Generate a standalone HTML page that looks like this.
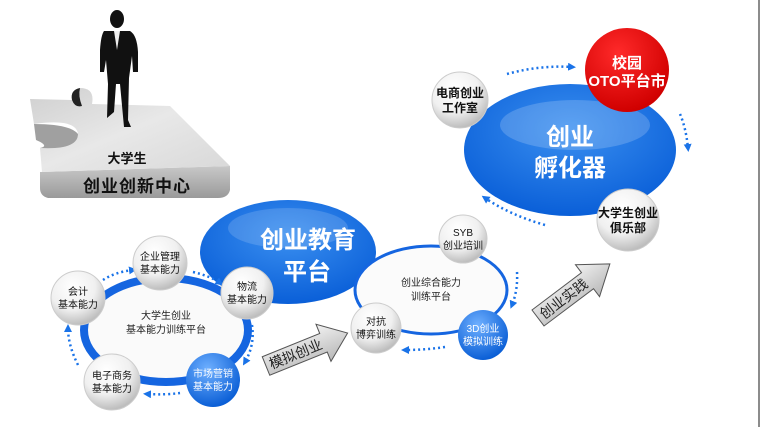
<!DOCTYPE html>
<html><head><meta charset="utf-8"><style>
html,body{margin:0;padding:0;background:#fff;}
svg{display:block;font-family:"Liberation Sans","Noto Sans CJK SC",sans-serif;}
</style></head><body>
<svg width="760" height="427" viewBox="0 0 760 427" xmlns="http://www.w3.org/2000/svg">
<defs>
<radialGradient id="gb" cx="50%" cy="35%" r="65%"><stop offset="0" stop-color="#3a8ff0"/><stop offset="1" stop-color="#0a5fd8"/></radialGradient>
<radialGradient id="gw" cx="40%" cy="30%" r="70%"><stop offset="0" stop-color="#fff"/><stop offset="0.6" stop-color="#f0f0f0"/><stop offset="1" stop-color="#bdbdbd"/></radialGradient>
<radialGradient id="gbc" cx="40%" cy="30%" r="70%"><stop offset="0" stop-color="#6fb0ff"/><stop offset="1" stop-color="#0b5fd6"/></radialGradient>
<radialGradient id="gr" cx="40%" cy="30%" r="70%"><stop offset="0" stop-color="#ff2a2a"/><stop offset="1" stop-color="#d00000"/></radialGradient>
<linearGradient id="pz" x1="0" y1="0" x2="1" y2="1"><stop offset="0" stop-color="#cfcfcf"/><stop offset="0.5" stop-color="#e8e8e8"/><stop offset="1" stop-color="#d8d8d8"/></linearGradient>
<linearGradient id="pzs" x1="0" y1="0" x2="0" y2="1"><stop offset="0" stop-color="#c8c8c8"/><stop offset="1" stop-color="#9a9a9a"/></linearGradient>
<linearGradient id="ar" x1="0" y1="0" x2="0" y2="1"><stop offset="0" stop-color="#f2f2f2"/><stop offset="1" stop-color="#b8b8b8"/></linearGradient>
<marker id="mh" markerUnits="userSpaceOnUse" markerWidth="8" markerHeight="8" refX="4" refY="4" orient="auto"><path d="M0,0 L8,4 L0,8 Z" fill="#1a73e8"/></marker>
</defs>
<line x1="759" y1="0" x2="759" y2="427" stroke="#666" stroke-width="1.5"/>

<!-- puzzle -->
<path d="M40,172 L230,166 L230,190 Q228,198 218,198 L48,198 Q40,196 40,188 Z" fill="url(#pzs)"/>
<path d="M30,99 L72,100 Q70,90 80,88 Q95,88 92,104 L170,106 L230,166 L42,172 L40,148 Q78,150 78,134 Q76,118 34,124 Z" fill="url(#pz)"/>
<path d="M72,100 Q75,108 82,106 Q78,96 80,88 Q70,90 72,100Z" fill="#222"/>
<path d="M40,148 Q78,150 78,134 Q70,124 34,124 L36,140 Q50,146 40,148Z" fill="#777" opacity="0.7"/>
<text x="127" y="163" font-size="13" font-weight="bold" text-anchor="middle" fill="#111">大学生</text>
<text x="137" y="192" font-size="17" font-weight="bold" text-anchor="middle" fill="#111" letter-spacing="1">创业创新中心</text>
<!-- person -->
<g fill="#111">
<ellipse cx="117" cy="19" rx="7" ry="9"/>
<path d="M104,31 L130,31 Q137,35 138,52 L138,72 L133,72 L132,56 L129,78 L128,120 L131,127 L124,127 L120,84 L116,84 L114,112 L107,118 L108,84 L106,60 L104,72 L100,72 L100,50 Q101,35 104,31Z"/>
</g>
<path d="M114,31 L120,31 L117,50Z" fill="#eee"/>

<!-- education platform -->
<ellipse cx="288" cy="252" rx="88" ry="52" fill="url(#gb)"/>
<ellipse cx="288" cy="228" rx="60" ry="20" fill="#fff" opacity="0.15"/>
<text x="308" y="248" font-size="24" font-weight="bold" text-anchor="middle" fill="#fff">创业教育</text>
<text x="307" y="280" font-size="24" font-weight="bold" text-anchor="middle" fill="#fff">平台</text>

<!-- left ring -->
<ellipse cx="166" cy="330" rx="82" ry="52" fill="#fafafa" stroke="#1565e0" stroke-width="8"/>
<text x="166" y="319" font-size="10" text-anchor="middle" fill="#222">大学生创业</text>
<text x="166" y="333" font-size="10" text-anchor="middle" fill="#222">基本能力训练平台</text>

<!-- second ring -->
<ellipse cx="431" cy="290" rx="76" ry="44" fill="#fbfbfb" stroke="#1565e0" stroke-width="3"/>
<text x="431" y="286" font-size="10" text-anchor="middle" fill="#222">创业综合能力</text>
<text x="431" y="300" font-size="10" text-anchor="middle" fill="#222">训练平台</text>

<!-- incubator -->
<ellipse cx="570" cy="150" rx="106" ry="66" fill="url(#gb)"/>
<ellipse cx="575" cy="125" rx="75" ry="25" fill="#fff" opacity="0.18"/>
<text x="570" y="145" font-size="24" font-weight="bold" text-anchor="middle" fill="#fff">创业</text>
<text x="570" y="176" font-size="24" font-weight="bold" text-anchor="middle" fill="#fff">孵化器</text>

<!-- dotted arrows -->
<g fill="none" stroke="#1a73e8" stroke-width="2.5" stroke-dasharray="2,3" marker-end="url(#mh)">
<path d="M103,280 Q115,272 133,270"/>
<path d="M193,272 Q210,276 220,283"/>
<path d="M252,325 Q255,345 245,362"/>
<path d="M180,393 Q165,395 147,394"/>
<path d="M78,365 Q68,345 68,328"/>
<path d="M445,347 Q425,350 405,350"/>
<path d="M517,272 Q518,290 512,305"/>
<path d="M545,225 Q510,215 485,198"/>
<path d="M507,74 Q540,65 572,67"/>
<path d="M680,114 Q686,128 688,148"/>
</g>

<!-- gray arrows -->
<g transform="translate(266,366) rotate(-22)">
<path d="M0,-10 L62,-10 L62,-20 L88,0 L62,20 L62,10 L0,10 Z" fill="url(#ar)" stroke="#555" stroke-width="1"/>
<text x="32" y="5" font-size="14" fill="#222" text-anchor="middle">模拟创业</text>
</g>
<g transform="translate(538,318) rotate(-37)">
<path d="M0,-10 L62,-10 L62,-20 L90,0 L62,20 L62,10 L0,10 Z" fill="url(#ar)" stroke="#555" stroke-width="1"/>
<text x="32" y="5" font-size="14" fill="#222" text-anchor="middle">创业实践</text>
</g>

<!-- small circles -->
<g font-size="10" text-anchor="middle" fill="#111">
<circle cx="160" cy="263" r="27" fill="url(#gw)" stroke="#ccc"/>
<text x="160" y="260">企业管理</text><text x="160" y="273">基本能力</text>
<circle cx="247" cy="293" r="26" fill="url(#gw)" stroke="#ccc"/>
<text x="247" y="290">物流</text><text x="247" y="303">基本能力</text>
<circle cx="78" cy="298" r="27" fill="url(#gw)" stroke="#ccc"/>
<text x="78" y="295">会计</text><text x="78" y="308">基本能力</text>
<circle cx="112" cy="382" r="28" fill="url(#gw)" stroke="#ccc"/>
<text x="112" y="379">电子商务</text><text x="112" y="392">基本能力</text>
<circle cx="213" cy="380" r="27" fill="url(#gbc)"/>
<text x="213" y="377" fill="#fff">市场营销</text><text x="213" y="390" fill="#fff">基本能力</text>
<circle cx="463" cy="239" r="24" fill="url(#gw)" stroke="#ccc"/>
<text x="463" y="236">SYB</text><text x="463" y="249">创业培训</text>
<circle cx="376" cy="328" r="25" fill="url(#gw)" stroke="#ccc"/>
<text x="376" y="325">对抗</text><text x="376" y="338">博弈训练</text>
<circle cx="483" cy="335" r="25" fill="url(#gbc)"/>
<text x="483" y="332" fill="#fff">3D创业</text><text x="483" y="345" fill="#fff">模拟训练</text>
<circle cx="460" cy="100" r="28" fill="url(#gw)" stroke="#ccc"/>
<text x="460" y="97" font-size="12" font-weight="bold">电商创业</text><text x="460" y="112" font-size="12" font-weight="bold">工作室</text>
<circle cx="628" cy="220" r="31" fill="url(#gw)" stroke="#ccc"/>
<text x="628" y="217" font-size="12" font-weight="bold">大学生创业</text><text x="628" y="232" font-size="12" font-weight="bold">俱乐部</text>
<circle cx="627" cy="70" r="42" fill="url(#gr)"/>
<text x="627" y="68" font-size="15" font-weight="bold" fill="#fff">校园</text><text x="627" y="86" font-size="15" font-weight="bold" fill="#fff">OTO平台市</text>
</g>
</svg>
</body></html>
